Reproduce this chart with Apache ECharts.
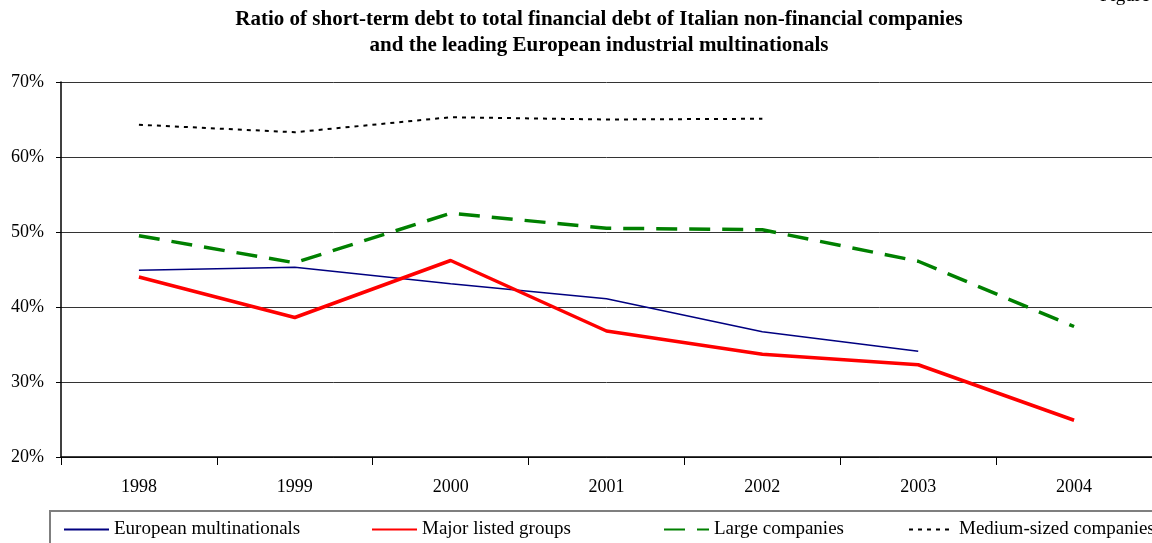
<!DOCTYPE html>
<html>
<head>
<meta charset="utf-8">
<script src="https://cdn.jsdelivr.net/npm/echarts@6/dist/echarts.min.js"></script>
<style>
  html, body { margin: 0; padding: 0; background: #fff; }
  #chart { width: 1152px; height: 543px; }
</style>
</head>
<body>
<div id="chart"></div>
<script>
// Years on the horizontal axis
const years = ['1998', '1999', '2000', '2001', '2002', '2003', '2004'];

// Short-term debt as a percentage of total financial debt
const europeanMultinationals = [44.9, 45.3, 43.1, 41.1, 36.7, 34.1, null];
const majorListedGroups      = [44.0, 38.6, 46.2, 36.8, 33.7, 32.3, 24.9];
const largeCompanies         = [49.5, 45.9, 52.5, 50.5, 50.3, 46.1, 37.4];
const mediumSizedCompanies   = [64.3, 63.3, 65.3, 65.0, 65.1, null, null];

const seriesNames = ['European multinationals', 'Major listed groups', 'Large companies', 'Medium-sized companies'];

const serif = '"Liberation Serif", "DejaVu Serif", serif';
const chart = echarts.init(document.getElementById('chart'));

// One legend per entry so each sits at its own spot inside the frame
function legendAt(name, left) {
  return {
    data: [name], left: left, top: 515, itemWidth: 45, itemHeight: 14,
    itemStyle: { opacity: 0 },
    textStyle: { fontFamily: serif, fontSize: 19, color: '#000' }, selectedMode: false
  };
}

chart.setOption({
  animation: false,
  title: {
    text: 'Ratio of short-term debt to total financial debt of Italian non-financial companies\nand the leading European industrial multinationals',
    left: 594, top: 2, textAlign: 'center',
    textStyle: { fontFamily: serif, fontSize: 21, fontWeight: 'bold', color: '#000', lineHeight: 26 }
  },
  graphic: [
    { type: 'text', left: 1100, top: -13, style: { text: 'Figure', font: '19px ' + serif, fill: '#000' } },
    { type: 'rect', shape: { x: 50, y: 511, width: 1120, height: 40 },
      style: { fill: 'none', stroke: '#7f7f7f', lineWidth: 2 } }
  ],
  legend: [
    legendAt(seriesNames[0], 58),
    legendAt(seriesNames[1], 366),
    legendAt(seriesNames[2], 658),
    legendAt(seriesNames[3], 903)
  ],
  grid: { left: 61, right: 0, top: 82, bottom: 86 },
  xAxis: {
    type: 'category', data: years, boundaryGap: true,
    axisLine: { lineStyle: { color: '#000', width: 1.5 } },
    axisTick: { show: true, interval: 0, length: 8, lineStyle: { color: '#000' } },
    axisLabel: { fontFamily: serif, fontSize: 18, color: '#000', margin: 21 }
  },
  yAxis: {
    type: 'value', min: 20, max: 70, interval: 10,
    axisLine: { show: true, lineStyle: { color: '#000', width: 1.5 } },
    axisTick: { show: true, length: 5, lineStyle: { color: '#000' } },
    axisLabel: { formatter: '{value}%', fontFamily: serif, fontSize: 18, color: '#000', margin: 17 },
    splitLine: { lineStyle: { color: '#333', width: 1 } }
  },
  series: [
    { name: seriesNames[0], type: 'line', data: europeanMultinationals, symbol: 'none',
      lineStyle: { color: '#000080', width: 1.5 }, itemStyle: { color: '#000080' } },
    { name: seriesNames[1], type: 'line', data: majorListedGroups, symbol: 'none',
      lineStyle: { color: '#ff0000', width: 3.5 }, itemStyle: { color: '#ff0000' } },
    { name: seriesNames[2], type: 'line', data: largeCompanies, symbol: 'none',
      lineStyle: { color: '#008000', width: 3.5, type: [21, 12] }, itemStyle: { color: '#008000' } },
    { name: seriesNames[3], type: 'line', data: mediumSizedCompanies, symbol: 'none',
      lineStyle: { color: '#000', width: 2, type: [4, 5] }, itemStyle: { color: '#000' } }
  ]
});
</script>
</body>
</html>
